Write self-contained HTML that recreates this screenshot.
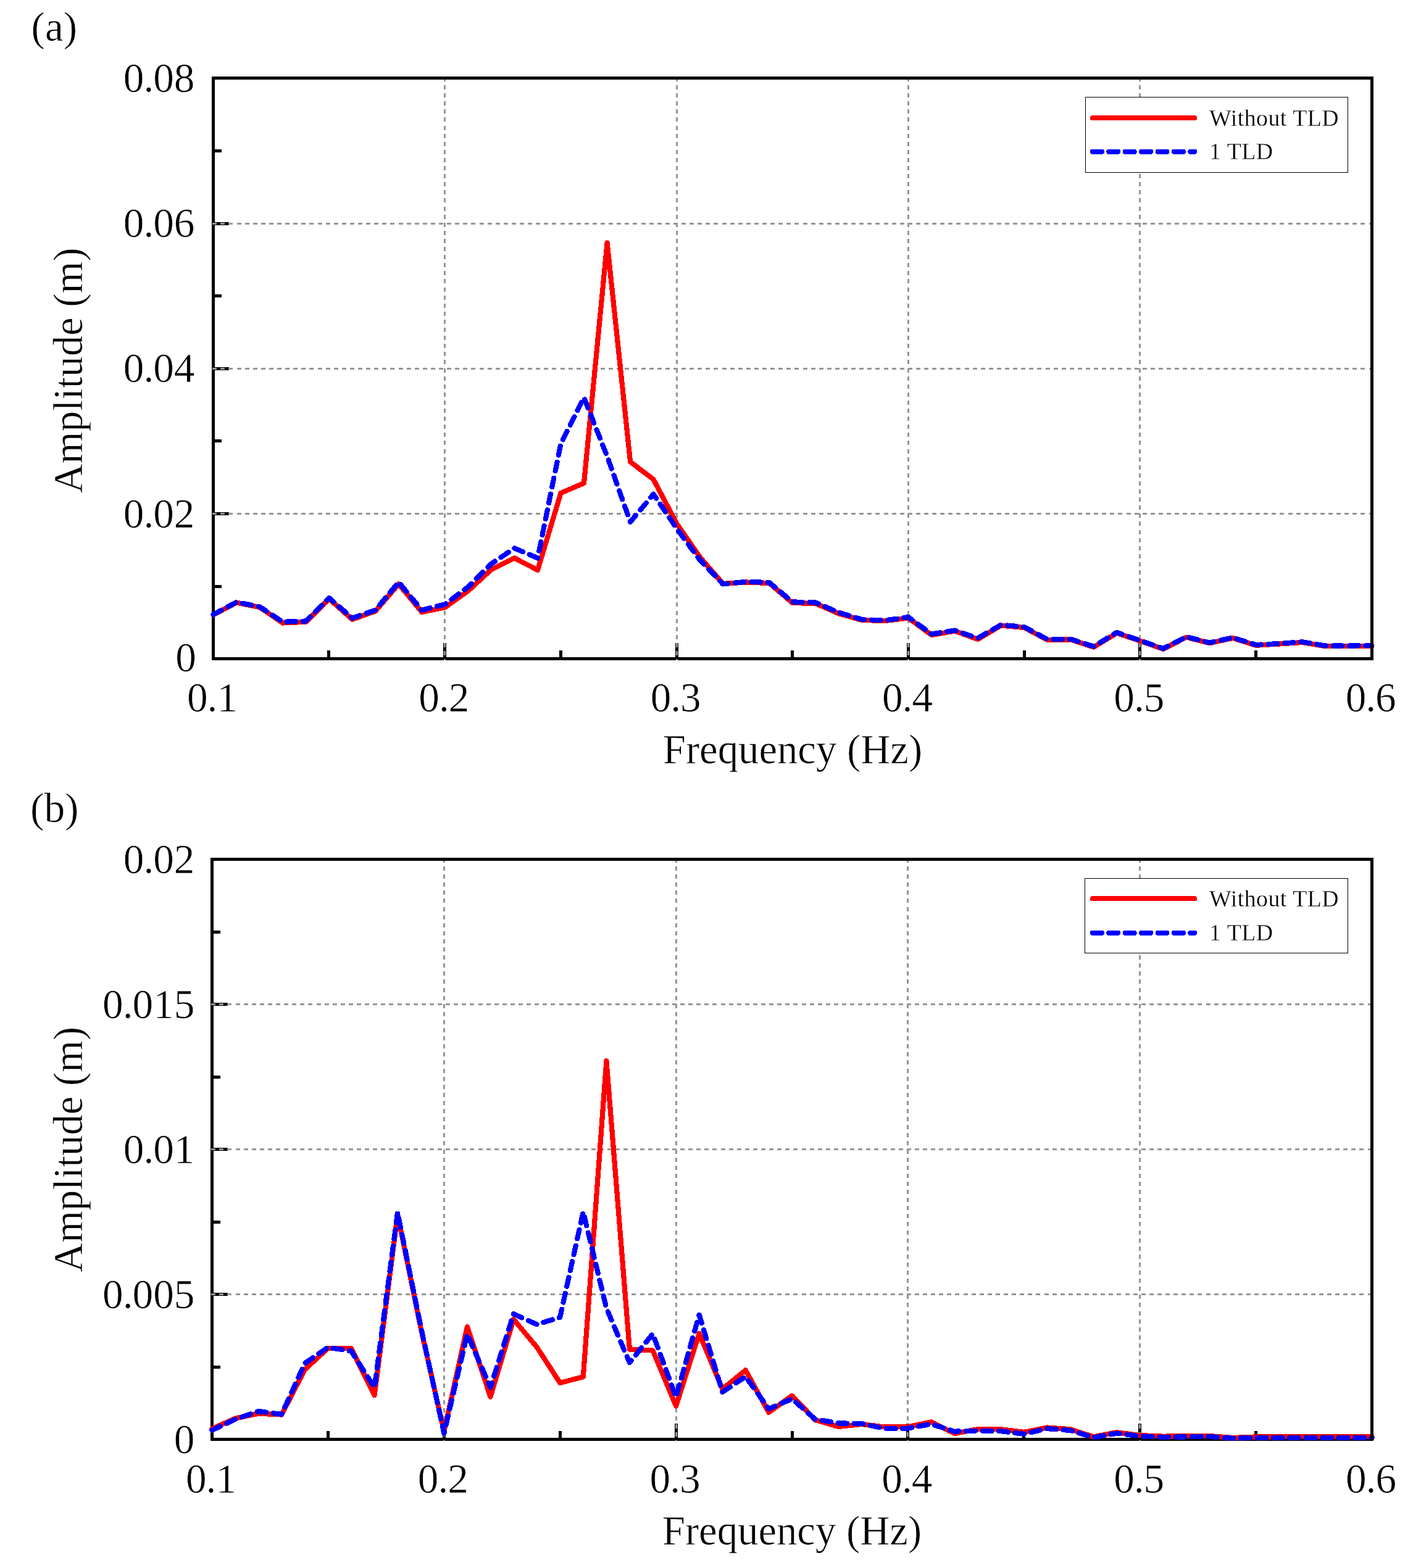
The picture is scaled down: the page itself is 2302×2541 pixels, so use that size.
<!DOCTYPE html>
<html lang="en">
<head>
<meta charset="utf-8">
<title>Amplitude spectra with and without TLD</title>
<style>
html, body { margin: 0; padding: 0; background: #fff; }
body { width: 2302px; height: 2541px; overflow: hidden; }
svg { display: block; }
svg text { font-family: "Liberation Serif", "Times New Roman", Times, serif; font-size: 67.3px; fill: #000; stroke: #fff; stroke-width: 0.6px; }
svg text.al { font-size: 66.7px; }
svg text.lg { font-size: 37.8px; letter-spacing: 0.5px; stroke-width: 0.3px; }
</style>
</head>
<body>
<svg width="2302" height="2541" viewBox="0 0 2302 2541">
<rect x="0" y="0" width="2302" height="2541" fill="#fff"/>
<g id="panel-a">
<g stroke="#000" stroke-width="5" shape-rendering="crispEdges">
<line x1="345.5" y1="950.5" x2="359.0" y2="950.5"/>
<line x1="345.5" y1="714.5" x2="359.0" y2="714.5"/>
<line x1="345.5" y1="479.5" x2="359.0" y2="479.5"/>
<line x1="345.5" y1="244.5" x2="359.0" y2="244.5"/>
<line x1="345.5" y1="832.5" x2="371.0" y2="832.5"/>
<line x1="345.5" y1="597.5" x2="371.0" y2="597.5"/>
<line x1="345.5" y1="362.5" x2="371.0" y2="362.5"/>
<line x1="532.5" y1="1067.5" x2="532.5" y2="1053.5"/>
<line x1="908.5" y1="1067.5" x2="908.5" y2="1053.5"/>
<line x1="1283.5" y1="1067.5" x2="1283.5" y2="1053.5"/>
<line x1="1659.5" y1="1067.5" x2="1659.5" y2="1053.5"/>
<line x1="2034.5" y1="1067.5" x2="2034.5" y2="1053.5"/>
<line x1="720.5" y1="1067.5" x2="720.5" y2="1041.5"/>
<line x1="1096.5" y1="1067.5" x2="1096.5" y2="1041.5"/>
<line x1="1471.5" y1="1067.5" x2="1471.5" y2="1041.5"/>
<line x1="1846.5" y1="1067.5" x2="1846.5" y2="1041.5"/>
</g>
<path d="M345.5 124.0V1067.5H2225.0" fill="none" stroke="#000" stroke-width="5" stroke-linejoin="miter" shape-rendering="crispEdges"/>
<g stroke="#969696" stroke-width="3" stroke-dasharray="7 6.1" shape-rendering="crispEdges">
<line x1="344.2" y1="832.5" x2="2219.7" y2="832.5"/>
<line x1="344.2" y1="597.5" x2="2219.7" y2="597.5"/>
<line x1="344.2" y1="362.5" x2="2219.7" y2="362.5"/>
<line x1="720.5" y1="124.9" x2="720.5" y2="1070.0"/>
<line x1="1096.5" y1="124.9" x2="1096.5" y2="1070.0"/>
<line x1="1471.5" y1="124.9" x2="1471.5" y2="1070.0"/>
<line x1="1846.5" y1="124.9" x2="1846.5" y2="1070.0"/>
</g>
<polyline points="345.5,996.4 383.0,976.5 420.6,984.0 458.1,1009.5 495.6,1007.8 533.2,970.5 570.7,1003.8 608.2,990.3 645.8,946.4 683.3,991.8 720.8,984.4 758.4,957.5 795.9,923.0 833.4,904.4 871.0,923.8 908.5,799.0 946.0,783.0 983.6,393.5 1021.1,748.4 1058.6,777.0 1096.2,848.5 1133.7,902.6 1171.2,945.9 1208.8,943.5 1246.3,945.0 1283.8,977.0 1321.4,978.0 1358.9,994.4 1396.5,1005.0 1434.0,1006.0 1471.5,1001.5 1509.1,1029.0 1546.6,1022.6 1584.1,1036.0 1621.7,1013.6 1659.2,1017.0 1696.7,1037.0 1734.3,1036.4 1771.8,1048.6 1809.3,1025.8 1846.9,1038.6 1884.4,1051.8 1921.9,1032.6 1959.5,1042.2 1997.0,1034.0 2034.5,1045.8 2072.1,1043.5 2109.6,1041.0 2147.1,1047.2 2184.7,1047.2 2222.2,1047.0" fill="none" stroke="#f00" stroke-width="8.2" stroke-linejoin="round" stroke-linecap="round" shape-rendering="crispEdges"/>
<polyline points="345.5,995.9 383.0,975.8 420.6,983.2 458.1,1007.8 495.6,1006.5 533.2,969.0 570.7,1001.6 608.2,988.7 645.8,943.4 683.3,988.7 720.8,979.4 758.4,951.0 795.9,913.7 833.4,888.4 871.0,904.4 908.5,719.3 946.0,644.3 983.6,739.5 1021.1,846.0 1058.6,800.8 1096.2,856.4 1133.7,907.3 1171.2,946.5 1208.8,942.7 1246.3,944.0 1283.8,975.4 1321.4,976.5 1358.9,992.6 1396.5,1004.0 1434.0,1005.4 1471.5,1000.0 1509.1,1027.5 1546.6,1021.6 1584.1,1034.0 1621.7,1012.6 1659.2,1016.0 1696.7,1036.0 1734.3,1035.8 1771.8,1047.5 1809.3,1024.8 1846.9,1038.0 1884.4,1051.0 1921.9,1032.0 1959.5,1041.5 1997.0,1033.3 2034.5,1045.0 2072.1,1043.0 2109.6,1040.2 2147.1,1046.5 2184.7,1046.5 2222.2,1046.2" fill="none" stroke="#00f" stroke-width="8.2" stroke-linejoin="round" stroke-linecap="round" stroke-dasharray="14.8 11.6" shape-rendering="crispEdges"/>
<path d="M343.0 126.5H2222.5V1070.0" fill="none" stroke="#000" stroke-width="5" stroke-linejoin="miter" shape-rendering="crispEdges"/>
<rect x="1758.5" y="157.5" width="425" height="122" fill="#fff" stroke="#000" stroke-width="1.3" shape-rendering="crispEdges"/>
<line x1="1770" y1="191.3" x2="1935" y2="191.3" stroke="#f00" stroke-width="8.2" stroke-linecap="round" shape-rendering="crispEdges"/>
<line x1="1770" y1="245.8" x2="1935" y2="245.8" stroke="#00f" stroke-width="8.2" stroke-linecap="round" stroke-dasharray="14.8 11.6" shape-rendering="crispEdges"/>
<text x="1959" y="204.2" class="lg">Without TLD</text>
<text x="1959" y="258.4" class="lg">1 TLD</text>
<text x="317.9" y="1088.4" text-anchor="end">0</text>
<text x="315.5" y="854.6" text-anchor="end">0<tspan dx="-1">.</tspan><tspan dx="-1">02</tspan></text>
<text x="315.5" y="619.4" text-anchor="end">0<tspan dx="-1">.</tspan><tspan dx="-1">04</tspan></text>
<text x="315.5" y="384.1" text-anchor="end">0<tspan dx="-1">.</tspan><tspan dx="-1">06</tspan></text>
<text x="315.5" y="148.9" text-anchor="end">0<tspan dx="-1">.</tspan><tspan dx="-1">08</tspan></text>
<text x="344.0" y="1153.0" text-anchor="middle">0<tspan dx="-1">.</tspan><tspan dx="-1">1</tspan></text>
<text x="719.3" y="1153.0" text-anchor="middle">0<tspan dx="-1">.</tspan><tspan dx="-1">2</tspan></text>
<text x="1094.7" y="1153.0" text-anchor="middle">0<tspan dx="-1">.</tspan><tspan dx="-1">3</tspan></text>
<text x="1470.0" y="1153.0" text-anchor="middle">0<tspan dx="-1">.</tspan><tspan dx="-1">4</tspan></text>
<text x="1845.4" y="1153.0" text-anchor="middle">0<tspan dx="-1">.</tspan><tspan dx="-1">5</tspan></text>
<text x="2220.7" y="1153.0" text-anchor="middle">0<tspan dx="-1">.</tspan><tspan dx="-1">6</tspan></text>
<text x="1284.0" y="1237.0" text-anchor="middle" class="al">Frequency (Hz)</text>
<text transform="translate(132.5 600.5) rotate(-90)" text-anchor="middle" class="al">Amplitude (m)</text>
<text x="50.5" y="65.7">(a)</text>
</g>
<g id="panel-b">
<g stroke="#000" stroke-width="5" shape-rendering="crispEdges">
<line x1="343.5" y1="2215.5" x2="357.0" y2="2215.5"/>
<line x1="343.5" y1="1980.5" x2="357.0" y2="1980.5"/>
<line x1="343.5" y1="1745.5" x2="357.0" y2="1745.5"/>
<line x1="343.5" y1="1510.5" x2="357.0" y2="1510.5"/>
<line x1="343.5" y1="2097.5" x2="369.0" y2="2097.5"/>
<line x1="343.5" y1="1862.5" x2="369.0" y2="1862.5"/>
<line x1="343.5" y1="1627.5" x2="369.0" y2="1627.5"/>
<line x1="531.5" y1="2332.5" x2="531.5" y2="2318.5"/>
<line x1="907.5" y1="2332.5" x2="907.5" y2="2318.5"/>
<line x1="1283.5" y1="2332.5" x2="1283.5" y2="2318.5"/>
<line x1="1658.5" y1="2332.5" x2="1658.5" y2="2318.5"/>
<line x1="2034.5" y1="2332.5" x2="2034.5" y2="2318.5"/>
<line x1="719.5" y1="2332.5" x2="719.5" y2="2306.5"/>
<line x1="1095.5" y1="2332.5" x2="1095.5" y2="2306.5"/>
<line x1="1470.5" y1="2332.5" x2="1470.5" y2="2306.5"/>
<line x1="1846.5" y1="2332.5" x2="1846.5" y2="2306.5"/>
</g>
<path d="M343.5 1390.0V2332.5H2225.0" fill="none" stroke="#000" stroke-width="5" stroke-linejoin="miter" shape-rendering="crispEdges"/>
<g stroke="#969696" stroke-width="3" stroke-dasharray="7 6.1" shape-rendering="crispEdges">
<line x1="342.2" y1="2097.5" x2="2220.0" y2="2097.5"/>
<line x1="342.2" y1="1862.5" x2="2220.0" y2="1862.5"/>
<line x1="342.2" y1="1627.5" x2="2220.0" y2="1627.5"/>
<line x1="719.5" y1="1390.9" x2="719.5" y2="2335.0"/>
<line x1="1095.5" y1="1390.9" x2="1095.5" y2="2335.0"/>
<line x1="1470.5" y1="1390.9" x2="1470.5" y2="2335.0"/>
<line x1="1846.5" y1="1390.9" x2="1846.5" y2="2335.0"/>
</g>
<polyline points="343.5,2315.5 381.1,2298.6 418.7,2290.7 456.2,2292.5 493.8,2219.5 531.4,2184.7 569.0,2185.1 606.6,2261.2 644.1,1968.0 681.7,2152.3 719.3,2320.0 756.9,2150.1 794.5,2263.6 832.0,2138.0 869.6,2183.0 907.2,2241.0 944.8,2231.2 982.4,1719.3 1019.9,2186.7 1057.5,2188.5 1095.1,2278.5 1132.7,2160.9 1170.3,2251.0 1207.8,2220.5 1245.4,2288.8 1283.0,2261.7 1320.6,2301.0 1358.2,2312.0 1395.7,2308.0 1433.3,2312.5 1470.9,2312.3 1508.5,2304.3 1546.1,2323.0 1583.6,2316.2 1621.2,2316.2 1658.8,2320.8 1696.4,2313.5 1734.0,2316.2 1771.5,2328.4 1809.1,2321.2 1846.7,2326.1 1884.3,2327.7 1921.9,2327.0 1959.4,2327.0 1997.0,2330.0 2034.6,2328.4 2072.2,2328.4 2109.8,2328.2 2147.3,2328.2 2184.9,2328.4 2222.5,2328.4" fill="none" stroke="#f00" stroke-width="8.2" stroke-linejoin="round" stroke-linecap="round" shape-rendering="crispEdges"/>
<polyline points="343.5,2317.7 381.1,2300.0 418.7,2287.0 456.2,2292.0 493.8,2209.2 531.4,2183.4 569.0,2189.5 606.6,2248.7 644.1,1965.0 681.7,2150.0 719.3,2322.7 756.9,2162.0 794.5,2248.2 832.0,2129.3 869.6,2146.2 907.2,2134.8 944.8,1963.9 982.4,2120.0 1019.9,2208.1 1057.5,2161.6 1095.1,2264.0 1132.7,2130.7 1170.3,2256.0 1207.8,2230.8 1245.4,2283.0 1283.0,2267.0 1320.6,2299.8 1358.2,2306.4 1395.7,2307.0 1433.3,2315.0 1470.9,2314.6 1508.5,2307.7 1546.1,2319.7 1583.6,2318.5 1621.2,2319.2 1658.8,2323.8 1696.4,2315.1 1734.0,2318.0 1771.5,2329.4 1809.1,2322.7 1846.7,2327.3 1884.3,2328.9 1921.9,2328.4 1959.4,2328.0 1997.0,2330.7 2034.6,2330.0 2072.2,2330.0 2109.8,2330.0 2147.3,2330.0 2184.9,2330.0 2222.5,2330.0" fill="none" stroke="#00f" stroke-width="8.2" stroke-linejoin="round" stroke-linecap="round" stroke-dasharray="14.8 11.6" shape-rendering="crispEdges"/>
<path d="M341.0 1392.5H2222.5V2335.0" fill="none" stroke="#000" stroke-width="5" stroke-linejoin="miter" shape-rendering="crispEdges"/>
<rect x="1757.5" y="1423.5" width="426" height="121" fill="#fff" stroke="#000" stroke-width="1.3" shape-rendering="crispEdges"/>
<line x1="1770" y1="1456.2" x2="1935" y2="1456.2" stroke="#f00" stroke-width="8.2" stroke-linecap="round" shape-rendering="crispEdges"/>
<line x1="1770" y1="1511.8" x2="1935" y2="1511.8" stroke="#00f" stroke-width="8.2" stroke-linecap="round" stroke-dasharray="14.8 11.6" shape-rendering="crispEdges"/>
<text x="1959" y="1469.0" class="lg">Without TLD</text>
<text x="1959" y="1523.7" class="lg">1 TLD</text>
<text x="315.5" y="2354.9" text-anchor="end">0</text>
<text x="315.5" y="2119.9" text-anchor="end">0<tspan dx="-1">.</tspan><tspan dx="-1">005</tspan></text>
<text x="315.5" y="1884.9" text-anchor="end">0<tspan dx="-1">.</tspan><tspan dx="-1">01</tspan></text>
<text x="315.5" y="1649.9" text-anchor="end">0<tspan dx="-1">.</tspan><tspan dx="-1">015</tspan></text>
<text x="315.5" y="1414.9" text-anchor="end">0<tspan dx="-1">.</tspan><tspan dx="-1">02</tspan></text>
<text x="342.0" y="2419.2" text-anchor="middle">0<tspan dx="-1">.</tspan><tspan dx="-1">1</tspan></text>
<text x="717.8" y="2419.2" text-anchor="middle">0<tspan dx="-1">.</tspan><tspan dx="-1">2</tspan></text>
<text x="1093.6" y="2419.2" text-anchor="middle">0<tspan dx="-1">.</tspan><tspan dx="-1">3</tspan></text>
<text x="1469.4" y="2419.2" text-anchor="middle">0<tspan dx="-1">.</tspan><tspan dx="-1">4</tspan></text>
<text x="1845.2" y="2419.2" text-anchor="middle">0<tspan dx="-1">.</tspan><tspan dx="-1">5</tspan></text>
<text x="2221.0" y="2419.2" text-anchor="middle">0<tspan dx="-1">.</tspan><tspan dx="-1">6</tspan></text>
<text x="1283.0" y="2503.2" text-anchor="middle" class="al">Frequency (Hz)</text>
<text transform="translate(132.5 1862.8) rotate(-90)" text-anchor="middle" class="al">Amplitude (m)</text>
<text x="49" y="1332">(b)</text>
</g>
</svg>
</body>
</html>
